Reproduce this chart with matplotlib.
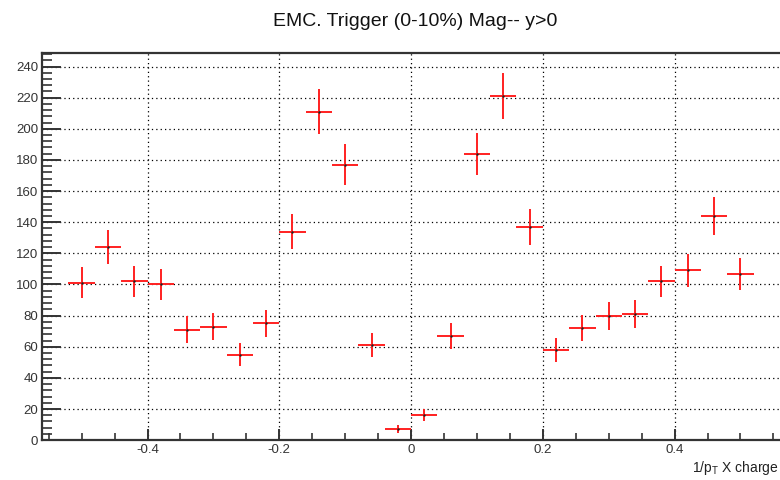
import numpy as np
import matplotlib
matplotlib.use('Agg')
from matplotlib import pyplot as plt
from matplotlib.ticker import MultipleLocator

plt.rcParams['font.family'] = ['Liberation Sans', 'DejaVu Sans']

# bin centres (width 0.04) and contents
bin_centers = [-0.50, -0.46, -0.42, -0.38, -0.34, -0.30, -0.26, -0.22, -0.18,
               -0.14, -0.10, -0.06, -0.02, 0.02, 0.06, 0.10, 0.14, 0.18,
               0.22, 0.26, 0.30, 0.34, 0.38, 0.42, 0.46, 0.50]
counts = [101, 124, 102, 100, 71, 73, 55, 75, 134,
          211, 177, 61, 7, 16, 67, 184, 221, 137,
          58, 72, 80, 81, 102, 109, 144, 107]
errors = [10, 11, 10, 10, 8.5, 8.5, 7.5, 8.5, 11.5,
          14.5, 13.3, 7.8, 2.7, 4, 8.2, 13.6, 14.9, 11.7,
          7.6, 8.5, 9, 9, 10, 10.4, 12, 10.3]
half_width = 0.02

fig = plt.figure(figsize=(7.8, 4.8), dpi=100)
ax = fig.add_axes([0.054, 0.083, 0.946, 0.806])

ax.errorbar(bin_centers, counts, yerr=errors, xerr=half_width,
            fmt='none', ecolor='#ff2020', elinewidth=1.4, capsize=0)
ax.plot(bin_centers, counts, ls='none', marker='s', ms=0.7, color='#222222')

ax.set_xlim(-0.56, 0.56)
ax.set_ylim(0, 248.5)

ax.xaxis.set_major_locator(MultipleLocator(0.2))
ax.xaxis.set_minor_locator(MultipleLocator(0.05))
ax.yaxis.set_major_locator(MultipleLocator(20))
ax.yaxis.set_minor_locator(MultipleLocator(4))
ax.xaxis.set_major_formatter(matplotlib.ticker.FuncFormatter(
    lambda v, p: '0' if abs(v) < 1e-9 else ('%g' % round(v, 2))))

ax.grid(True, which='major', color='black', linestyle=(0, (1, 2.5)), linewidth=0.9)
ax.tick_params(axis='both', which='both', direction='in', colors='#333333',
               labelcolor='#333333', labelsize=9.5)
ax.tick_params(axis='y', which='major', length=14, width=1.4, pad=3)
ax.tick_params(axis='y', which='minor', length=7, width=1.2)
ax.tick_params(axis='x', which='major', length=8, width=1.4, pad=3)
ax.tick_params(axis='x', which='minor', length=5, width=1.2)

for s in ax.spines.values():
    s.set_color('#333333')
    s.set_linewidth(1.6)
ax.spines['right'].set_visible(False)

fig.text(0.532, 0.956, 'EMC. Trigger (0-10%) Mag-- y>0', ha='center', va='center',
         fontsize=14, color='#111111')
fig.text(0.998, 0.026, r'1/p$_\mathregular{T}$ X charge', ha='right', va='center',
         fontsize=10, color='#222222')

fig.savefig('out.png', dpi=100)
